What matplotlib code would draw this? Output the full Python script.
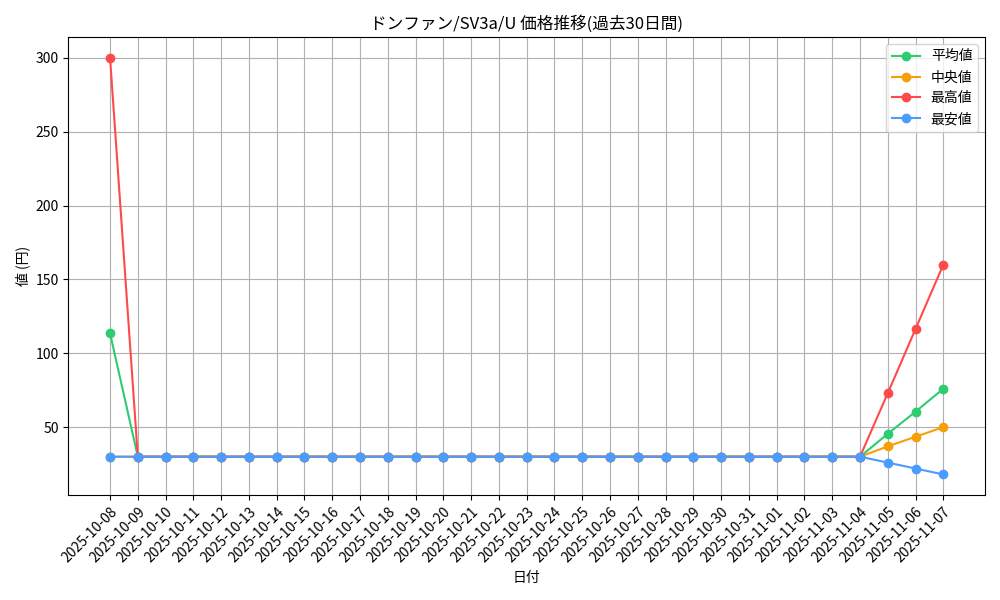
import matplotlib
matplotlib.use("Agg")
import matplotlib.pyplot as plt
import pandas as pd

plt.rcParams['font.family'] = ['Noto Sans CJK JP', 'DejaVu Sans']

dates = [d.strftime("%Y-%m-%d") for d in pd.date_range("2025-10-08", "2025-11-07")]
n = len(dates)
mean_vals = [113.5] + [30] * 27 + [45.5, 60.5, 76]
median_vals = [30] * 28 + [37, 43.5, 50]
max_vals = [300] + [30] * 27 + [73, 116.5, 160]
min_vals = [30] * 28 + [26, 22, 18]

fig, ax = plt.subplots(figsize=(10, 6), dpi=100)
ax.plot(dates, mean_vals, marker='o', color='#2ecc71', label='平均値')
ax.plot(dates, median_vals, marker='o', color='#f5a00a', label='中央値')
ax.plot(dates, max_vals, marker='o', color='#ff4a4a', label='最高値')
ax.plot(dates, min_vals, marker='o', color='#4a9dff', label='最安値')
ax.set_title("ドンファン/SV3a/U 価格推移(過去30日間)")
ax.set_xlabel("日付")
ax.set_ylabel("値 (円)")
ax.grid(True)
ax.legend(loc='upper right')
plt.xticks(rotation=45, ha='right', rotation_mode='anchor')
plt.tight_layout()
plt.savefig("out.png")
